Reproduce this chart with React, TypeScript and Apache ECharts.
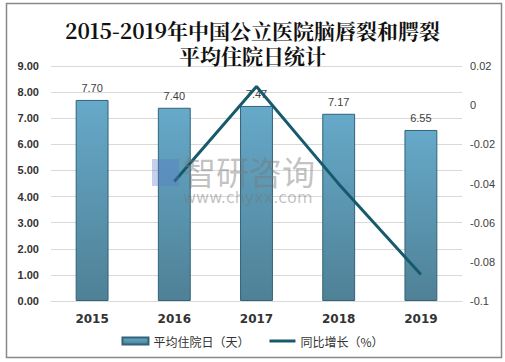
import React, { useEffect, useRef } from "react";
import * as echarts from "echarts";

const categories = ["2015", "2016", "2017", "2018", "2019"];
const avgStay = [7.7, 7.4, 7.47, 7.17, 6.55];
const yoyGrowth = [null, -0.039, 0.0095, -0.0402, -0.0865];
const leftTicks = { min: 0, max: 9, interval: 1 };
const rightTicks = { min: -0.1, max: 0.02, interval: 0.02 };

export default function App() {
  const ref = useRef<HTMLDivElement>(null);
  useEffect(() => {
    if (!ref.current) return;
    const chart = echarts.init(ref.current, undefined, { renderer: "svg" });
    chart.setOption({
      animation: false,
      backgroundColor: "#fff",
      title: {
        text: "2015-2019年中国公立医院脑唇裂和腭裂\n平均住院日统计",
        left: "center",
        top: 12,
        textStyle: {
          fontFamily: "'Noto Serif CJK SC', 'Noto Sans CJK SC', serif",
          fontSize: 21,
          fontWeight: "bold",
          color: "#111",
          lineHeight: 25,
        },
      },
      graphic: [
        {
          type: "rect",
          shape: { x: 6.5, y: 3.5, width: 495, height: 354 },
          style: { fill: "none", stroke: "#898989", lineWidth: 1.5 },
          silent: true,
        },
        {
          type: "text",
          left: 183,
          top: 154,
          z: 100,
          style: {
            text: "智研咨询",
            fontSize: 33,
            fontFamily: "'Noto Sans CJK SC', sans-serif",
            fill: "rgba(120,120,120,0.45)",
          },
        },
        {
          type: "rect",
          z: 100,
          shape: { x: 152, y: 159, width: 27, height: 27 },
          style: { fill: "rgba(90,120,200,0.35)" },
        },
        {
          type: "text",
          left: 183,
          top: 189,
          z: 100,
          style: {
            text: "www.chyxx.com",
            fontSize: 16,
            fontFamily: "'DejaVu Sans', sans-serif",
            fill: "rgba(120,120,120,0.45)",
            letterSpacing: 1.5,
          },
        },
      ],
      grid: { left: 51, right: 43, top: 66, bottom: 61 },
      legend: {
        bottom: 10,
        left: "center",
        itemGap: 20,
        itemWidth: 26,
        itemHeight: 7,
        textStyle: {
          fontFamily: "'Noto Sans CJK SC', sans-serif",
          fontSize: 12,
          color: "#333",
        },
        data: [
          { name: "平均住院日（天）", icon: "rect" },
          { name: "同比增长（%）", icon: "path://M0,0h26v3h-26z" },
        ],
      },
      xAxis: {
        type: "category",
        data: categories,
        axisLine: { lineStyle: { color: "#d9d9d9" } },
        axisTick: { show: false },
        axisLabel: {
          fontWeight: "bold",
          fontSize: 12,
          color: "#333",
          margin: 12,
          fontFamily: "'DejaVu Sans', sans-serif",
        },
      },
      yAxis: [
        {
          type: "value",
          min: leftTicks.min,
          max: leftTicks.max,
          interval: leftTicks.interval,
          axisLine: { show: false },
          axisTick: { show: false },
          splitLine: { lineStyle: { color: "#d9d9d9" } },
          axisLabel: {
            formatter: (v: number) => v.toFixed(2),
            fontSize: 11,
            fontWeight: "bold",
            color: "#333",
            margin: 12,
            fontFamily: "'Liberation Sans', sans-serif",
          },
        },
        {
          type: "value",
          min: rightTicks.min,
          max: rightTicks.max,
          interval: rightTicks.interval,
          axisLine: { show: false },
          axisTick: { show: false },
          splitLine: { show: false },
          axisLabel: {
            formatter: (v: number) => {
              const r = Math.round(v * 100) / 100;
              if (r === 0) return "0";
              if (r === -0.1) return "-0.1";
              return r.toFixed(2);
            },
            fontSize: 11,
            color: "#404040",
            margin: 8,
            fontFamily: "'Liberation Sans', sans-serif",
          },
        },
      ],
      series: [
        {
          name: "平均住院日（天）",
          type: "bar",
          data: avgStay,
          barWidth: "40%",
          yAxisIndex: 0,
          itemStyle: {
            color: new echarts.graphic.LinearGradient(0, 0, 0, 1, [
              { offset: 0, color: "#66a9c9" },
              { offset: 1, color: "#4f8196" },
            ]),
            borderColor: "#31637a",
            borderWidth: 1,
          },
          label: {
            show: true,
            position: "top",
            formatter: (p: any) => p.value.toFixed(2),
            fontSize: 11,
            color: "#404040",
            distance: 6,
            fontFamily: "'Liberation Sans', sans-serif",
          },
        },
        {
          name: "同比增长（%）",
          type: "line",
          data: yoyGrowth,
          yAxisIndex: 1,
          symbol: "none",
          lineStyle: { color: "#165a6c", width: 3 },
          itemStyle: { color: "#165a6c" },
        },
      ],
    });
    return () => chart.dispose();
  }, []);
  return (
    <div
      ref={ref}
      style={{ position: "absolute", left: 0, top: 0, width: 505, height: 362 }}
    />
  );
}
